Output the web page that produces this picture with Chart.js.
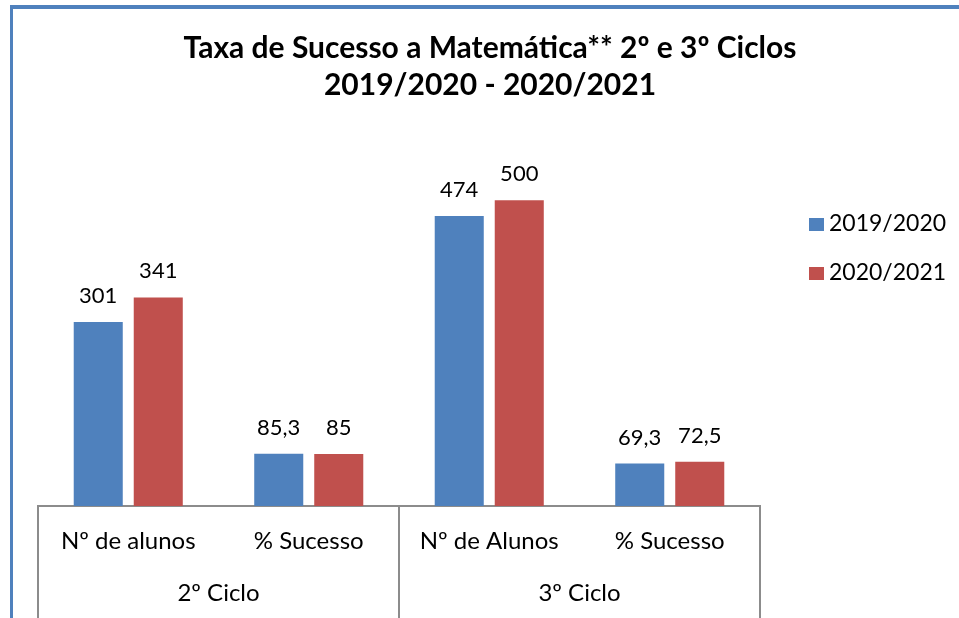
<!DOCTYPE html>
<html>
<head>
<meta charset="utf-8">
<script src="https://cdn.jsdelivr.net/npm/chart.js@4"></script>
<style>
  html, body { margin: 0; padding: 0; background: #fff; }
  #wrap { position: relative; width: 959px; height: 618px; }
  #frame {
    position: absolute; left: 10px; top: 5px; right: 0; bottom: 0;
    border-left: 3px solid #4F81BD; border-top: 4px solid #4F81BD;
    pointer-events: none;
  }
  canvas { position: absolute; left: 0; top: 0; }
</style>
</head>
<body>
<div id="wrap">
  <canvas id="grafico" width="959" height="618"></canvas>
  <div id="frame"></div>
</div>
<script>
// Dados do gráfico
const titulo = ['Taxa de Sucesso a Matemática** 2º e 3º Ciclos', '2019/2020 - 2020/2021'];
const categorias = ['Nº de alunos', '% Sucesso', 'Nº de Alunos', '% Sucesso'];
const ciclos = ['2º Ciclo', '3º Ciclo'];
const anos = ['2019/2020', '2020/2021'];
const valores2019 = [301, 85.3, 474, 69.3];
const valores2020 = [341, 85, 500, 72.5];

const azul = '#4F81BD';
const vermelho = '#C0504D';
const fonte = 'Lato, "Open Sans", sans-serif';

// Títulos, legenda, etiquetas de valores e eixo de 2 níveis
const extras = {
    id: 'extras',
    afterDraw(chart) {
        const ctx = chart.ctx;
        const x = chart.scales.x;
        const area = chart.chartArea;
        ctx.save();
        ctx.fillStyle = '#000';

        // título
        ctx.font = 'bold 30px ' + fonte;
        ctx.textAlign = 'center';
        ctx.textBaseline = 'alphabetic';
        ctx.fillText(titulo[0], 490, 58);
        ctx.fillText(titulo[1], 490, 95);

        // valores por cima das barras
        ctx.font = '22px ' + fonte;
        chart.data.datasets.forEach((ds, i) => {
            chart.getDatasetMeta(i).data.forEach((bar, j) => {
                let txt = String(ds.data[j]).replace('.', ',');
                ctx.fillText(txt, bar.x, bar.y - 19);
            });
        });

        // linhas separadoras e rótulos dos ciclos
        ctx.strokeStyle = '#8c8c8c';
        ctx.lineWidth = 2;
        let n = categorias.length;
        let passo = (x.right - x.left) / n;
        for (let k = 0; k <= n; k += 2) {
            let px = Math.round(x.left + k * passo);
            ctx.beginPath();
            ctx.moveTo(px, area.bottom);
            ctx.lineTo(px, chart.height);
            ctx.stroke();
        }
        ctx.font = '24px ' + fonte;
        ciclos.forEach((c, k) => {
            let cx = x.left + (k * 2 + 1) * passo;
            ctx.fillText(c, cx, area.bottom + 95);
        });

        // legenda
        ctx.font = '23px ' + fonte;
        ctx.textAlign = 'left';
        chart.data.datasets.forEach((ds, i) => {
            let y = 218 + i * 49;
            ctx.fillStyle = ds.backgroundColor;
            ctx.fillRect(809, y, 15, 13);
            ctx.fillStyle = '#000';
            ctx.fillText(ds.label, 829, y + 13);
        });
        ctx.restore();
    }
};

new Chart(document.getElementById('grafico'), {
    type: 'bar',
    data: {
        labels: categorias,
        datasets: [
            { label: anos[0], data: valores2019, backgroundColor: azul },
            { label: anos[1], data: valores2020, backgroundColor: vermelho }
        ]
    },
    options: {
        responsive: false,
        animation: false,
        layout: { padding: { left: 38, right: 199, top: 139, bottom: 0 } },
        plugins: {
            legend: { display: false },
            title: { display: false },
            tooltip: { enabled: false }
        },
        datasets: {
            bar: { categoryPercentage: 0.665, barPercentage: 0.817 }
        },
        scales: {
            x: {
                grid: { display: false, drawTicks: false },
                border: { display: true, color: '#8c8c8c', width: 2 },
                ticks: { color: '#000', font: { family: fonte, size: 24 }, padding: 21, maxRotation: 0, autoSkip: false },
                afterFit(scale) { scale.height = 112; }
            },
            y: {
                display: false,
                min: 0,
                max: 600
            }
        }
    },
    plugins: [extras]
});
</script>
</body>
</html>
